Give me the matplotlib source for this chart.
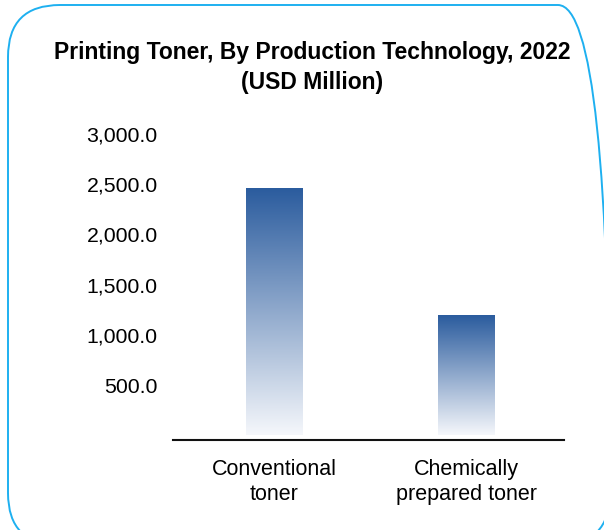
import numpy as np
import matplotlib.pyplot as plt
from matplotlib.patches import FancyBboxPatch
from matplotlib.colors import LinearSegmentedColormap

plt.rcParams['font.family'] = ['Liberation Sans', 'DejaVu Sans']

# data
categories = ["Conventional\ntoner", "Chemically\nprepared toner"]
values = [2450.0, 1190.0]
yticks = [500, 1000, 1500, 2000, 2500, 3000]

fig = plt.figure(figsize=(6.04, 5.30), dpi=100)

# rounded border round the card (pixel coords, origin bottom-left)
box = FancyBboxPatch((8, -15), 602, 540,
                     boxstyle="round,pad=0,rounding_size=52",
                     transform=None, fill=False,
                     edgecolor="#1eb0f0", linewidth=1.4, clip_on=False)
fig.patches.append(box)

fig.text(0.517, 1 - 52 / 530, "Printing Toner, By Production Technology, 2022",
         ha="center", va="center", fontsize=16.5, fontweight="bold")
fig.text(0.517, 1 - 82 / 530, "(USD Million)",
         ha="center", va="center", fontsize=16.5, fontweight="bold")

ax = fig.add_axes([173 / 604, 1 - 440 / 530, 391 / 604, 306 / 530])

cmap = LinearSegmentedColormap.from_list("grad", ["#f5f7fb", "#2b5c9e"])
grad = np.linspace(0, 1, 256).reshape(-1, 1)

x = np.arange(len(categories))
width = 0.295
bars = ax.bar(x, values, width=width, color="none")
for b in bars:
    x0, y0 = b.get_x(), b.get_y()
    ax.imshow(grad, cmap=cmap, origin="lower", aspect="auto",
              extent=[x0, x0 + b.get_width(), y0, y0 + b.get_height()],
              zorder=2)

ax.set_xlim(-0.528, 1.508)
ax.set_ylim(-45, 3000)
ax.set_yticks(yticks)
ax.set_yticklabels([f"{v:,.1f}" for v in yticks], fontsize=15.3)
ax.set_xticks(x)
ax.set_xticklabels(categories, fontsize=15.5, linespacing=1.2)
ax.tick_params(length=0, axis="y", pad=11)
ax.tick_params(length=0, axis="x", pad=14)

for s in ["top", "right", "left"]:
    ax.spines[s].set_visible(False)
ax.spines["bottom"].set_linewidth(1.5)
ax.spines["bottom"].set_color("#111111")

fig.savefig("out.png", dpi=100)
